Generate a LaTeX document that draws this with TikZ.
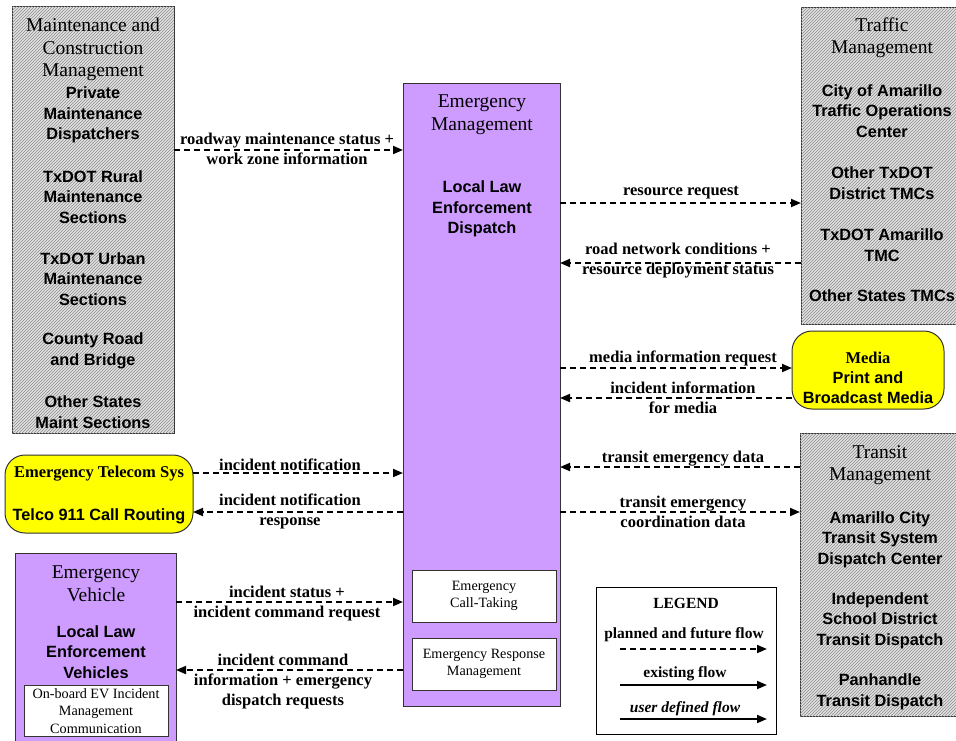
\documentclass[tikz,border=0pt]{standalone}
\usepackage{fontspec}
\setmainfont{Liberation Serif}
\setsansfont{Liberation Sans}
\usetikzlibrary{arrows.meta,patterns}
\definecolor{purp}{RGB}{206,156,255}
\definecolor{yel}{RGB}{255,255,0}
\definecolor{hatchbg}{RGB}{226,226,226}
\tikzset{
  boxbase/.style={draw=black!80, line width=1pt, inner sep=0pt, outer sep=0pt, anchor=north west},
  hatchbox/.style={boxbase, fill=hatchbg, postaction={pattern=north east lines, pattern color=black!45}},
  purpbox/.style={boxbase, fill=purp},
  yelbox/.style={boxbase, fill=yel, rounded corners=20pt},
  whitebox/.style={boxbase, fill=white},
  titletxt/.style={font=\fontsize{19.5}{22.5}\selectfont, align=center, inner sep=0pt},
  nametxt/.style={font=\sffamily\bfseries\fontsize{16.3}{20.5}\selectfont, align=center, inner sep=0pt},
  lbl/.style={font=\bfseries\fontsize{16.5}{20}\selectfont, align=center, inner sep=0pt},
  smalltxt/.style={font=\fontsize{14.2}{17.5}\selectfont, align=center, inner sep=0pt},
  legtxt/.style={font=\bfseries\fontsize{15.5}{18}\selectfont, align=center, inner sep=0pt},
  flow/.style={line width=1.8pt, dash pattern=on 6pt off 4pt, -{Triangle[length=10pt,width=8pt]}},
  solidflow/.style={line width=1.8pt, -{Triangle[length=10pt,width=8pt]}},
}
\begin{document}
\begin{tikzpicture}[x=1pt,y=-1pt]
\clip (0,0) rectangle (956,740);
\fill[white] (0,0) rectangle (956,740);

% boxes
\node[hatchbox, minimum width=162pt, minimum height=427pt] (maint) at (12,6) {};
\node[hatchbox, minimum width=164pt, minimum height=317pt] (traffic) at (801,7) {};
\node[hatchbox, minimum width=165pt, minimum height=283pt] (transit) at (800,433) {};
\node[purpbox, minimum width=157pt, minimum height=623pt] (em) at (403,83) {};
\node[whitebox, minimum width=144pt, minimum height=52pt] (calltake) at (412,570) {};
\node[whitebox, minimum width=144pt, minimum height=52pt] (response) at (412,638) {};
\node[yelbox, minimum width=152pt, minimum height=78pt] (media) at (792,331) {};
\node[yelbox, minimum width=188pt, minimum height=78pt] (telecom) at (5,455) {};
\node[purpbox, minimum width=161pt, minimum height=210pt] (ev) at (15,553) {};
\node[whitebox, minimum width=144pt, minimum height=51pt] (evin) at (24,685) {};
\node[boxbase, draw=black, fill=white, minimum width=180pt, minimum height=147pt] (legend) at (596,587) {};

% texts in boxes
\node[titletxt] (mtitle) at (93,49.5) {Maintenance and\\Construction\\Management};
\node[nametxt] (m1) at (93,115) {Private\\Maintenance\\Dispatchers};
\node[nametxt] (m2) at (93,197) {TxDOT Rural\\Maintenance\\Sections};
\node[nametxt] (m3) at (93,279) {TxDOT Urban\\Maintenance\\Sections};
\node[nametxt] (m4) at (93,351) {County Road\\and Bridge};
\node[nametxt] (m5) at (93,412) {Other States\\Maint Sections};

\node[titletxt] (ttitle) at (882,37.5) {Traffic\\Management};
\node[nametxt] (t1) at (882,111) {City of Amarillo\\Traffic Operations\\Center};
\node[nametxt] (t2) at (882,183) {Other TxDOT\\District TMCs};
\node[nametxt] (t3) at (882,245) {TxDOT Amarillo\\TMC};
\node[nametxt] (t4) at (882,296) {Other States TMCs};

\node[titletxt] (trtitle) at (880,465) {Transit\\Management};
\node[nametxt] (tr1) at (880,539.5) {Amarillo City\\Transit System\\Dispatch Center};
\node[nametxt] (tr2) at (880,620.5) {Independent\\School District\\Transit Dispatch};
\node[nametxt] (tr3) at (880,692) {Panhandle\\Transit Dispatch};

\node[titletxt] (emtitle) at (482,114.5) {Emergency\\Management};
\node[nametxt] (em1) at (482,209) {Local Law\\Enforcement\\Dispatch};
\node[smalltxt] (ctt) at (484,596) {Emergency\\Call-Taking};
\node[smalltxt] (rtt) at (484,664) {Emergency Response\\Management};

\node[lbl] (medt) at (868,358) {Media};
\node[nametxt] (med1) at (868,387.5) {Print and\\Broadcast Media};

\node[lbl] (telt) at (99,474) {Emergency Telecom Sys};
\node[nametxt] (tel1) at (99,516) {Telco 911 Call Routing};

\node[titletxt] (evtitle) at (96,584) {Emergency\\Vehicle};
\node[nametxt] (ev1) at (96,652) {Local Law\\Enforcement\\Vehicles};
\node[smalltxt] (evt) at (96,711) {On-board EV Incident\\Management\\Communication};

% legend
\node[legtxt] (legt) at (686,603) {LEGEND};
\node[legtxt] (leg1) at (684,635) {planned and future flow};
\node[legtxt] (leg2) at (685,674) {existing flow};
\node[legtxt, font=\bfseries\itshape\fontsize{15.5}{18}\selectfont] (leg3) at (685,709) {user defined flow};
\coordinate (la1) at (620,649); \coordinate (lb1) at (767,649);
\coordinate (la2) at (620,685); \coordinate (lb2) at (767,685);
\coordinate (la3) at (620,719); \coordinate (lb3) at (767,719);
\draw[flow] (la1) -- (lb1);
\draw[solidflow] (la2) -- (lb2);
\draw[solidflow] (la3) -- (lb3);

% arrow levels
\coordinate (y1) at (0,150);
\coordinate (y2) at (0,203);
\coordinate (y3) at (0,263);
\coordinate (y4) at (0,368);
\coordinate (y5) at (0,398);
\coordinate (y6) at (0,467);
\coordinate (y7) at (0,512);
\coordinate (y8) at (0,473);
\coordinate (y9) at (0,512);
\coordinate (y10) at (0,602);
\coordinate (y11) at (0,670);

\draw[flow] (maint.east |- y1) -- (em.west |- y1);
\draw[flow] (em.east |- y2) -- (traffic.west |- y2);
\draw[flow] (traffic.west |- y3) -- (em.east |- y3);
\draw[flow] (em.east |- y4) -- (media.west |- y4);
\draw[flow] (media.west |- y5) -- (em.east |- y5);
\draw[flow] (transit.west |- y6) -- (em.east |- y6);
\draw[flow] (em.east |- y7) -- (transit.west |- y7);
\draw[flow] (telecom.east |- y8) -- (em.west |- y8);
\draw[flow] (em.west |- y9) -- (telecom.east |- y9);
\draw[flow] (ev.east |- y10) -- (em.west |- y10);
\draw[flow] (em.west |- y11) -- (ev.east |- y11);

% labels
\node[lbl] (l1) at (287,149) {roadway maintenance status +\\work zone information};
\node[lbl] (l2) at (681,193) {resource request};
\node[lbl] (l3) at (678,260.5) {road network conditions +\\resource deployment status};
\node[lbl] (l4) at (683,358) {media information request};
\node[lbl] (l5) at (683,397.5) {incident information\\for media};
\node[lbl] (l6) at (683,459) {transit emergency data};
\node[lbl] (l7) at (683,511.5) {transit emergency\\coordination data};
\node[lbl] (l8) at (290,465) {incident notification};
\node[lbl] (l9) at (290,511) {incident notification\\response};
\node[lbl] (l10) at (287,603.5) {incident status +\\incident command request};
\node[lbl] (l11) at (283,681.5) {incident command\\information + emergency\\dispatch requests};
\end{tikzpicture}
\end{document}
